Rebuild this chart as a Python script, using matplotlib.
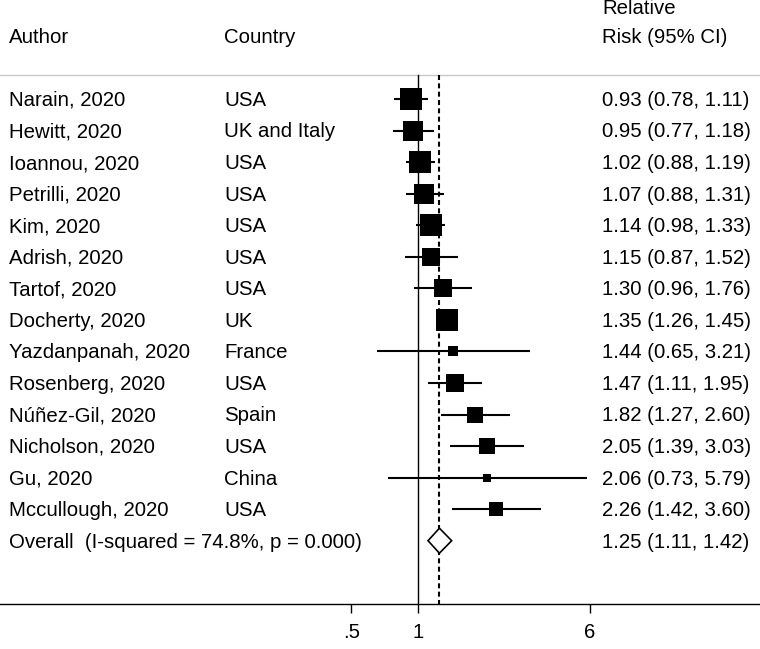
import matplotlib
matplotlib.use("Agg")
import matplotlib.pyplot as plt
import matplotlib.transforms as mtransforms
from matplotlib.patches import Polygon
import math

plt.rcParams['font.family'] = ['Liberation Sans', 'DejaVu Sans']

authors = ["Narain, 2020", "Hewitt, 2020", "Ioannou, 2020", "Petrilli, 2020", "Kim, 2020",
           "Adrish, 2020", "Tartof, 2020", "Docherty, 2020", "Yazdanpanah, 2020",
           "Rosenberg, 2020", "Núñez-Gil, 2020", "Nicholson, 2020", "Gu, 2020",
           "Mccullough, 2020"]
countries = ["USA", "UK and Italy", "USA", "USA", "USA", "USA", "USA", "UK", "France",
             "USA", "Spain", "USA", "China", "USA"]
rr = [0.93, 0.95, 1.02, 1.07, 1.14, 1.15, 1.30, 1.35, 1.44, 1.47, 1.82, 2.05, 2.06, 2.26]
lo = [0.78, 0.77, 0.88, 0.88, 0.98, 0.87, 0.96, 1.26, 0.65, 1.11, 1.27, 1.39, 0.73, 1.42]
hi = [1.11, 1.18, 1.19, 1.31, 1.33, 1.52, 1.76, 1.45, 3.21, 1.95, 2.60, 3.03, 5.79, 3.60]
weights = [10.07, 8.87, 9.78, 9.14, 9.78, 7.43, 6.94, 10.44, 2.53, 7.43, 5.68, 5.45, 1.69, 4.79]

overall_label = "Overall  (I-squared = 74.8%, p = 0.000)"
overall_rr, overall_lo, overall_hi = 1.25, 1.11, 1.42

xticks = [0.5, 1, 6]
xticklabels = [".5", "1", "6"]

W, H = 760, 649
fig = plt.figure(figsize=(W / 100, H / 100), dpi=100)
ax_bottom_px = 604
ax = fig.add_axes([0, (H - ax_bottom_px) / H, 1, ax_bottom_px / H])
ax.set_xscale('log')

px_per_ln = 96.0
x1_px = 418.0
ax.set_xlim(math.exp(-x1_px / px_per_ln), math.exp((W - x1_px) / px_per_ln))
row0_px, row_step = 99.0, 31.55
ax.set_ylim((ax_bottom_px - row0_px) / row_step, -row0_px / row_step)
ymax_row = (ax_bottom_px - row0_px) / row_step
hline_row = (75 - row0_px) / row_step

for s in ['top', 'left', 'right']:
    ax.spines[s].set_visible(False)
ax.spines['bottom'].set_linewidth(1.0)
ax.set_yticks([])
ax.set_xticks(xticks)
ax.set_xticklabels(xticklabels)
ax.xaxis.set_minor_locator(matplotlib.ticker.NullLocator())
ax.tick_params(axis='x', direction='out', length=6.5, width=1.0, pad=7,
               labelsize=14.7, colors='black')

fs = 14.7
bl = 0.22  # baseline offset (rows) so cap height is centred on the row
trans = mtransforms.blended_transform_factory(ax.transAxes, ax.transData)


def txt(xpx, row, s):
    ax.text(xpx / W, row + bl, s, transform=trans, fontsize=fs, va='baseline',
            ha='left', clip_on=False)


# header line
ax.plot([0, 1], [hline_row, hline_row], transform=trans, color='#c8c8c8', lw=1.0,
        clip_on=False)
# null line and overall line
ax.plot([1, 1], [hline_row, ymax_row], color='black', lw=1.0, zorder=2)
ax.plot([overall_rr, overall_rr], [hline_row, ymax_row], color='black', lw=1.5,
        linestyle=(0, (2.4, 1.6)), zorder=2)

n = len(authors)
for i in range(n):
    ax.plot([lo[i], hi[i]], [i, i], color='black', lw=1.5, solid_capstyle='butt', zorder=3)
    side_pt = 4.835 * math.sqrt(weights[i])
    ax.plot([rr[i]], [i], marker='s', markersize=side_pt, color='black', mew=0, zorder=4)
    txt(9, i, authors[i])
    txt(224, i, countries[i])
    txt(602, i, f"{rr[i]:.2f} ({lo[i]:.2f}, {hi[i]:.2f})")

# overall
orow = n
dh = 0.396
diamond = Polygon([(overall_lo, orow), (overall_rr, orow - dh), (overall_hi, orow),
                   (overall_rr, orow + dh)], closed=True, facecolor='white',
                  edgecolor='black', lw=1.2, zorder=5)
ax.add_patch(diamond)
txt(9, orow, overall_label)
txt(602, orow, f"{overall_rr:.2f} ({overall_lo:.2f}, {overall_hi:.2f})")

# headers
txt(9, -2, "Author")
txt(224, -2, "Country")
txt(602, -2, "Risk (95% CI)")
txt(602, -2.9, "Relative")

fig.savefig("out.png", dpi=100)
